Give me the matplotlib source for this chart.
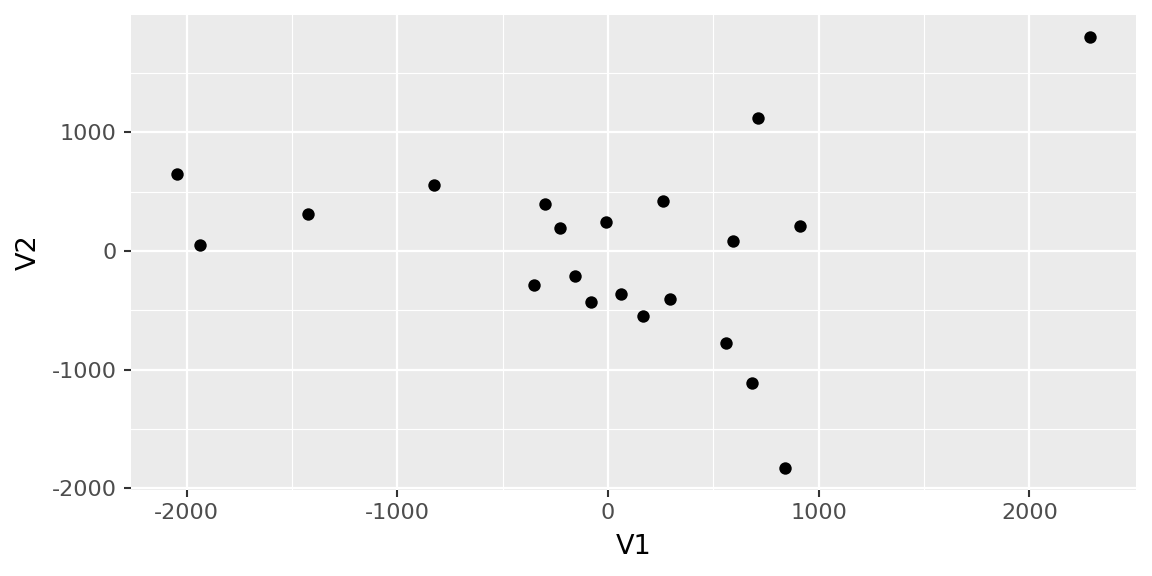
import matplotlib
matplotlib.use("Agg")
import matplotlib.pyplot as plt
import numpy as np

plt.rcParams["axes.unicode_minus"] = False

# point values
v1 = [-2047, -1934, -1422, -825, -299, -227, -9, 261, 910, 592,
      -351, -156, -81, 62, 294, 166, 559, 682, 711, 839, 2289]
v2 = [647, 50, 311, 555, 395, 193, 244, 420, 210, 84,
      -286, -210, -429, -361, -403, -546, -773, -1109, 1118, -1832, 1807]
x_ticks = [-2000, -1000, 0, 1000, 2000]
y_ticks = [-2000, -1000, 0, 1000]

fig = plt.figure(figsize=(11.52, 5.76), dpi=100)
ax = fig.add_axes([131 / 1152, 1 - 490 / 576, (1136 - 131) / 1152, (490 - 15) / 576])
ax.set_facecolor("#EBEBEB")

x = np.array(v1)
y = np.array(v2)
xr = x.max() - x.min()
yr = y.max() - y.min()
ax.set_xlim(x.min() - 0.05 * xr, x.max() + 0.05 * xr)
ax.set_ylim(y.min() - 0.05 * yr, y.max() + 0.05 * yr)

ax.set_xticks(x_ticks)
ax.set_yticks(y_ticks)
ax.set_xticks([-1500, -500, 500, 1500], minor=True)
ax.set_yticks([-1500, -500, 500, 1500], minor=True)
ax.grid(which="major", color="white", linewidth=1.6)
ax.grid(which="minor", color="white", linewidth=0.8)
ax.set_axisbelow(True)
for s in ax.spines.values():
    s.set_visible(False)

ax.tick_params(which="major", length=5, width=1.5, color="#333333",
               labelsize=16, labelcolor="#4D4D4D")
ax.tick_params(axis="x", pad=4.5)
ax.tick_params(axis="y", pad=5.5)
ax.tick_params(which="minor", length=0)

ax.scatter(x, y, s=80, color="black", linewidths=0, zorder=3)

ax.set_xlabel("V1", fontsize=19.5, labelpad=8)
ax.set_ylabel("V2", fontsize=19.5, labelpad=7)

fig.savefig("out.png", dpi=100)
